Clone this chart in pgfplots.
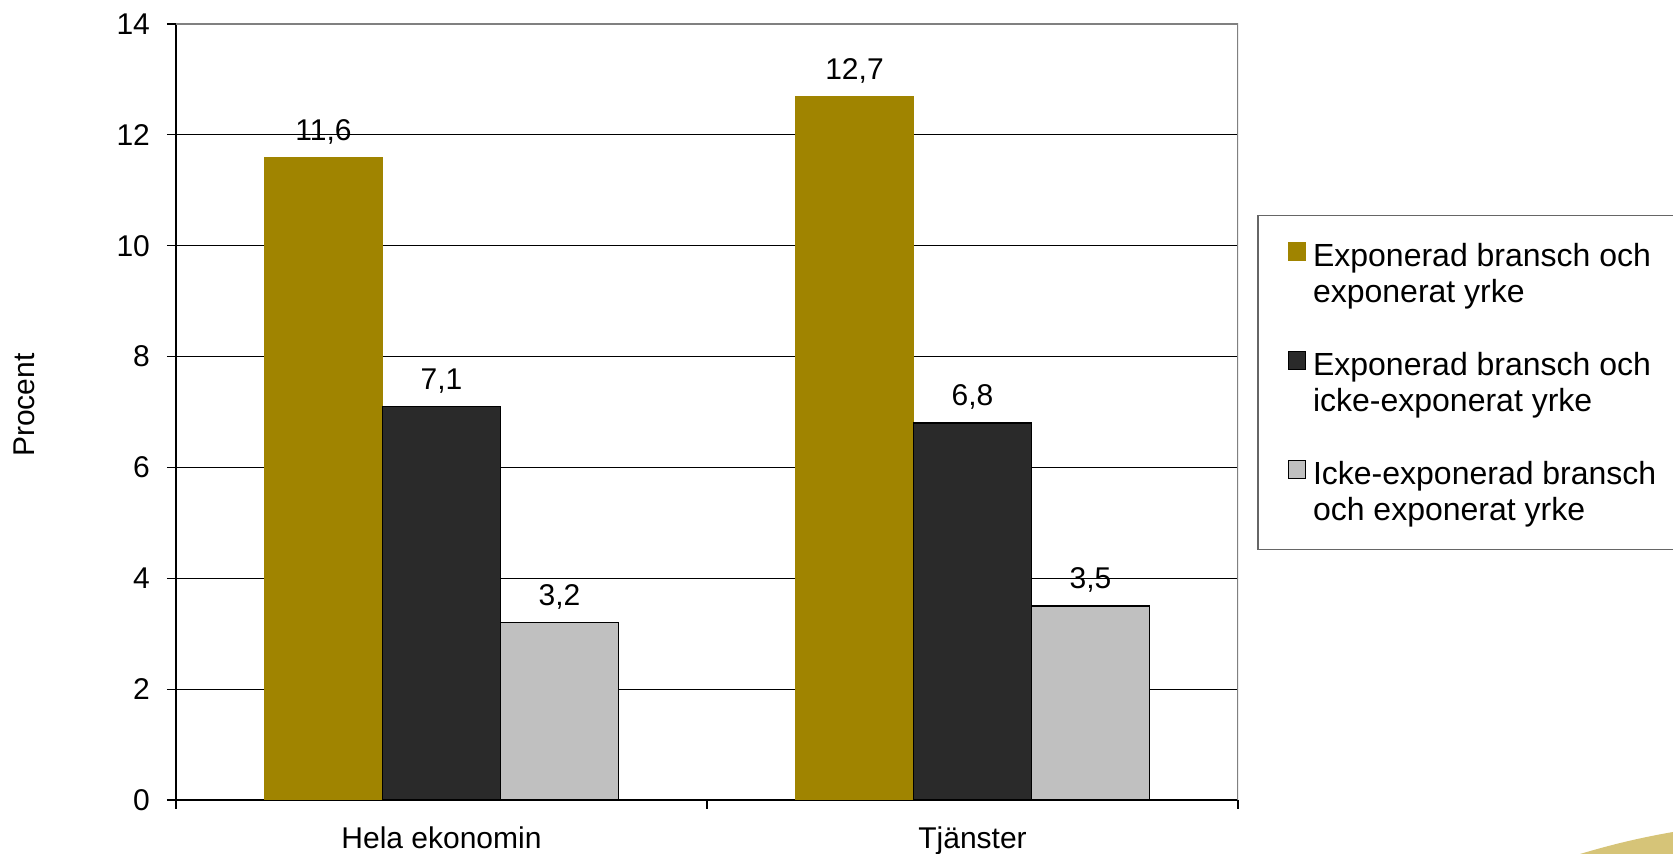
\documentclass[border=0pt]{standalone}
\usepackage{fontspec}
\setmainfont{Liberation Sans}
\usepackage{pgfplots}
\pgfplotsset{compat=1.18}
\definecolor{goldbar}{RGB}{160,132,0}
\definecolor{darkbar}{RGB}{42,42,42}
\definecolor{lightbar}{RGB}{192,192,192}
\definecolor{swoosh}{RGB}{214,196,120}
\newcommand{\twoline}[2]{\begin{tabular}[t]{@{}p{190pt}@{}}#1\\#2\end{tabular}}
\begin{document}
\begin{tikzpicture}[x=1pt,y=1pt]
\path[use as bounding box] (0,0) rectangle (836.5,427);
\fill[swoosh] (790,0) .. controls (810,6) and (825,9) .. (836.5,11) -- (836.5,0) -- cycle;
\begin{axis}[
  at={(88pt,27pt)}, anchor=south west,
  width=531pt, height=388pt, scale only axis,
  font=\fontsize{15}{18}\selectfont,
  /pgf/number format/assume math mode=true,
  xmin=-0.5, xmax=1.5, ymin=0, ymax=14,
  ytick={0,2,...,14},
  xtick={0,1}, xticklabels={Hela ekonomin, Tjänster},
  major x tick style={draw=none},
  minor xtick={-0.5,0.5,1.5},
  tick align=outside,
  major tick length=4.5pt, minor tick length=4.5pt,
  tick style={black, line width=0.6pt},
  axis x line*=bottom, axis y line*=left,
  axis line style={black, line width=0.6pt, -},
  ymajorgrids, major grid style={black, line width=0.5pt},
  ybar=0pt, bar width=59pt,
  ylabel={Procent},
  ylabel style={at={(axis description cs:-0.143,0.509)}, anchor=center, rotate=0},
  xticklabel style={yshift=-5.5pt},
  yticklabel style={xshift=-5pt},
  nodes near coords,
  every node near coord/.append style={/pgf/number format/fixed, /pgf/number format/fixed zerofill, /pgf/number format/precision=1, /pgf/number format/use comma, black, yshift=3pt, font=\fontsize{15}{18}\selectfont},
  legend style={at={(1.018,0.754)}, anchor=north west, draw=gray!80!black, line width=0.7pt,
    font=\fontsize{16}{18}\selectfont, row sep=18.5pt, inner xsep=15pt, inner ysep=11pt,
    nodes={inner ysep=2pt, inner xsep=3.5pt, text height=12.6pt, text depth=19.4pt}},
  legend cell align=left,
  legend image code/.code={\draw[#1, line width=0.6pt] (0pt,6.5pt) rectangle (8.5pt,15.5pt);},
]
\addplot[fill=goldbar, draw=goldbar] coordinates {(0,11.6) (1,12.7)};
\addplot[fill=darkbar, draw=black, line width=0.6pt] coordinates {(0,7.1) (1,6.8)};
\addplot[fill=lightbar, draw=black, line width=0.6pt] coordinates {(0,3.2) (1,3.5)};
\legend{\twoline{Exponerad bransch och}{exponerat yrke}, \twoline{Exponerad bransch och}{icke-exponerat yrke}, \twoline{Icke-exponerad bransch}{och exponerat yrke}}
\draw[gray, line width=0.6pt] (rel axis cs:0,1) -- (rel axis cs:1,1) -- (rel axis cs:1,0);
\end{axis}
\end{tikzpicture}
\end{document}
